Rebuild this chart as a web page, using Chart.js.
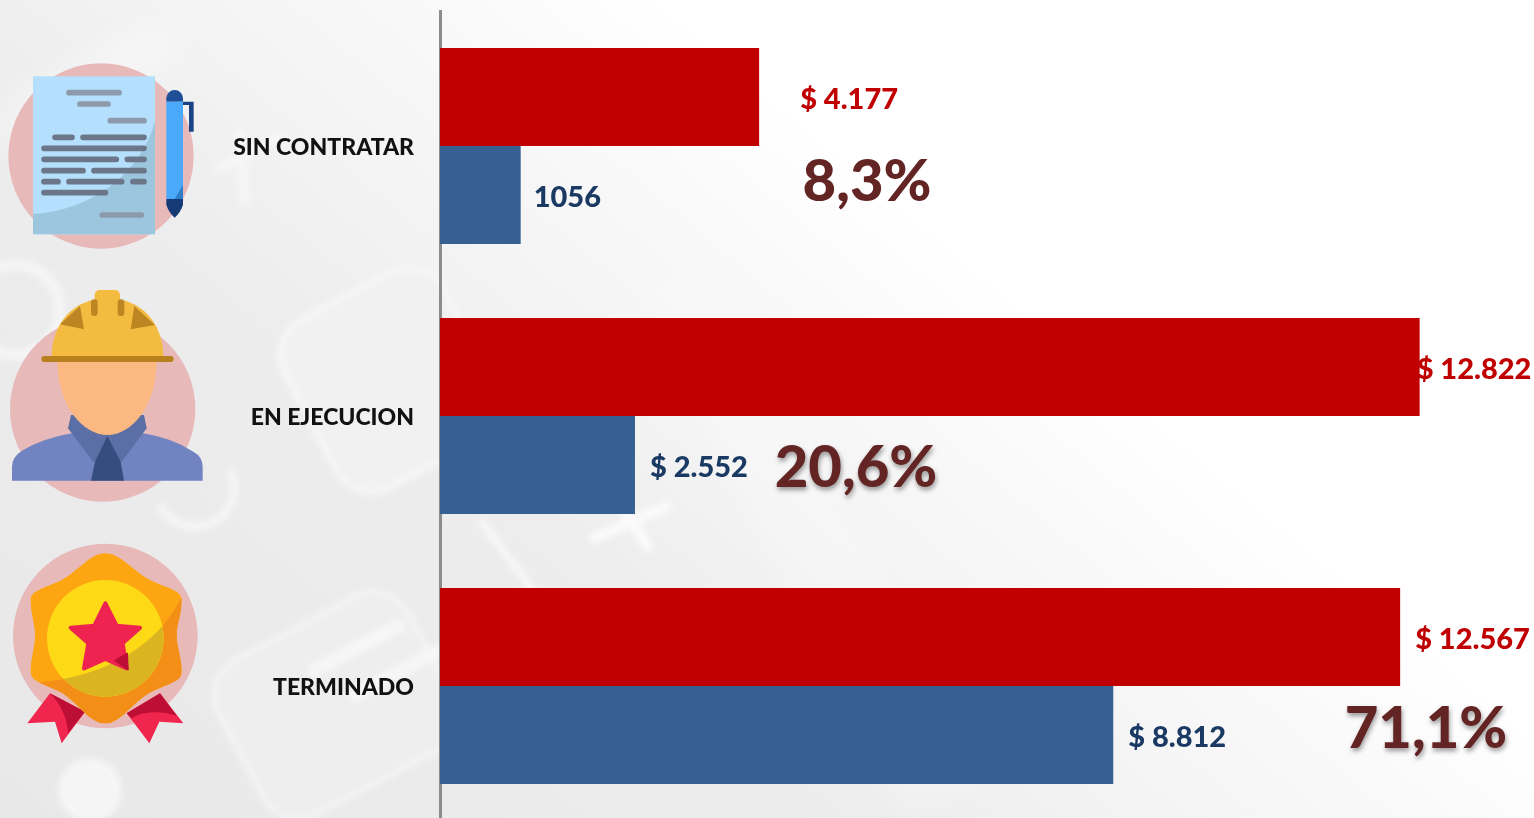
<!DOCTYPE html>
<html><head><meta charset="utf-8">
<script src="https://cdn.jsdelivr.net/npm/chart.js@4"></script>
<style>
html,body{margin:0;padding:0;width:1534px;height:818px;overflow:hidden;background:#fff}
#wrap{position:relative;width:1534px;height:818px;overflow:hidden;background:linear-gradient(40deg,#e8e8e9 0%,#ededee 35%,#f3f3f4 45%,#f9f9f9 56%,#fff 65%)}
#bg,#icons{position:absolute;left:0;top:0}
#c{position:absolute;left:0;top:0}
</style></head><body>
<div id="wrap">
<svg id="bg" width="1534" height="818" viewBox="0 0 1534 818">
 <defs><filter id="b1"><feGaussianBlur stdDeviation="3"/></filter><filter id="b2"><feGaussianBlur stdDeviation="14"/></filter></defs>
 <g filter="url(#b2)" fill="#fff" opacity=".35">
  <path d="M0 100 L150 20 L190 50 L0 160Z"/>
  <path d="M700 250 L1000 780 L900 818 L640 300Z" opacity=".6"/>
 </g>
 <g filter="url(#b1)">
  <rect x="300" y="285" width="180" height="190" rx="40" transform="rotate(-28 390 380)" fill="#f1f1f2" stroke="#f6f6f6" stroke-width="6"/>
  <rect x="225" y="620" width="215" height="175" rx="40" transform="rotate(-28 330 700)" fill="#eeeeef" stroke="#f4f4f4" stroke-width="5"/>
  <rect x="305" y="645" width="105" height="13" transform="rotate(-28 350 652)" fill="#f7f7f7"/>
  <rect x="345" y="670" width="105" height="13" transform="rotate(-28 390 677)" fill="#f7f7f7"/>
  <path d="M590 540 L670 505 M615 495 L650 550" stroke="#fbfbfb" stroke-width="10" fill="none"/>
  <path d="M480 520 L540 600" stroke="#fafafa" stroke-width="6" fill="none"/>
  <path d="M215 170 L285 135 M240 130 L245 205" stroke="#fafafa" stroke-width="10" fill="none" opacity=".7"/>
  <path d="M160 505 A38 38 0 1 0 230 470" fill="none" stroke="#f5f5f5" stroke-width="9"/>
  <circle cx="15" cy="310" r="45" fill="none" stroke="#f4f4f4" stroke-width="12"/>
  <circle cx="90" cy="790" r="32" fill="#f5f5f5"/>
 </g>
</svg>
<canvas id="c" width="1534" height="824"></canvas>
<svg id="icons" width="1534" height="818" viewBox="0 0 1534 818">
 <defs>
  <clipPath id="badgeClip"><path id="badgeP" d="M316 55C360 55 395 105 450 135C500 160 545 165 545 195C545 240 530 265 530 300C530 340 545 365 545 410C545 440 505 445 455 470C395 500 365 565 316 565C265 565 235 500 180 470C130 445 92 440 92 410C92 365 105 340 105 300C105 265 92 240 92 195C92 165 135 160 185 135C240 105 270 55 316 55Z"/></clipPath>
  <clipPath id="innerClip"><circle cx="316" cy="310" r="175"/></clipPath>
 </defs>
 <g transform="translate(0,50) scale(.33333)">
  <circle cx="303" cy="318" r="278" fill="#e8b9b9"/>
  <rect x="99" y="79" width="366" height="474" fill="#b4e0fd"/>
  <path d="M99 492C280 480 420 370 465 215V553H99Z" fill="#9cc5de"/>
  <g stroke="#8c9aab" stroke-width="17" stroke-linecap="round">
   <path d="M207 128H357M240 162H324M331 212H432M307 495H424"/>
  </g>
  <g stroke="#6b7689" stroke-width="17" stroke-linecap="round">
   <path d="M165 262H216M249 262H432M132 295H432M132 328H349M382 328H432M132 362H249M282 362H432M132 395H174M207 395H365M399 395H432M132 428H316"/>
  </g>
  <path d="M549 155H581V245H567V165H549Z" fill="#1b4486"/>
  <path d="M499 155V145A25 25 0 0 1 549 145V155Z" fill="#1f4f96"/>
  <rect x="499" y="155" width="50" height="292" fill="#4aa9fa"/>
  <path d="M499 447H549V465Q540 490 524 503Q508 490 499 465Z" fill="#163a75"/>
  <path d="M524 447L549 405V447Z" fill="#2f7fc8"/>
 </g>
 <g transform="translate(0,280) scale(.33333)">
  <circle cx="308" cy="387" r="278" fill="#e8b9b9"/>
  <path d="M36 602V560Q36 530 70 510Q130 475 215 460H430Q520 475 580 515Q608 530 608 560V602Z" fill="#7183c1"/>
  <path d="M213 405L204 445L280 545H365L440 445L432 405Z" fill="#5b6ea5"/>
  <path d="M322 468L285 545L273 602H372L362 545Z" fill="#364d80"/>
  <path d="M172 240C172 380 250 465 322 465C395 465 470 380 470 240Z" fill="#fbb881"/>
  <rect x="284" y="30" width="76" height="60" rx="15" fill="#f4bb41"/>
  <path d="M155 232C155 130 220 55 322 55C425 55 490 130 490 232Z" fill="#f4bb41"/>
  <rect x="273" y="58" width="20" height="50" rx="10" fill="#bd8623"/>
  <rect x="353" y="58" width="20" height="50" rx="10" fill="#bd8623"/>
  <path d="M180 133L240 78L252 148ZM403 78L465 135L392 148Z" fill="#bd8623"/>
  <path d="M133 237H512" stroke="#b9801f" stroke-width="18" stroke-linecap="round"/>
 </g>
 <g transform="translate(0,535) scale(.33333)">
  <circle cx="316" cy="303" r="277" fill="#e8b9b9"/>
  <path d="M150 475L255 530L185 625L165 560L82 565Z" fill="#f0264e"/>
  <path d="M150 475L255 530L205 595C200 550 185 510 150 475Z" fill="#bd0f35"/>
  <path d="M380 535L480 475L550 565L478 560L448 625Z" fill="#f0264e"/>
  <path d="M380 535L480 475L530 542C480 525 420 530 395 550Z" fill="#bd0f35"/>
  <use href="#badgeP" fill="#fda611"/>
  <path clip-path="url(#badgeClip)" d="M100 443C300 430 470 340 545 185V600H100Z" fill="#f38e17"/>
  <circle cx="316" cy="310" r="175" fill="#fed916"/>
  <path clip-path="url(#innerClip)" d="M100 443C300 430 470 340 545 185V600H100Z" fill="#dbb521"/>
  <path d="M316 205L350 272L420 278L368 325L380 400L316 372L252 400L265 325L212 278L283 272Z" fill="#ef2350" stroke="#ef2350" stroke-width="12" stroke-linejoin="round"/>
  <path d="M345 377L382 355L384 404Z" fill="#bd0f35" stroke="#bd0f35" stroke-width="4" stroke-linejoin="round"/>
 </g>
</svg>
</div>
<script>
const categories = ["SIN CONTRATAR", "EN EJECUCION", "TERMINADO"];
const totalValues = [4177, 12822, 12567];
const paidValues = [1056, 2552, 8812];
const totalLabels = ["$ 4.177", "$ 12.822", "$ 12.567"];
const paidLabels = ["1056", "$ 2.552", "$ 8.812"];
const percentLabels = ["8,3%", "20,6%", "71,1%"];

const FONT = 'Lato, Carlito, "Open Sans", sans-serif';
const RED = "#c00000", BLUE = "#366092", NAVY = "#1b3a63", MAROON = "#632523";
const totalOffsets = [41, -3, 15];
const paidOffsets = [13, 15, 15];
const percentX = [867, 856, 1426];
const percentDY = [36, 52, 43];
const TEXT_DY = 3;

const valueText = {
  id: "valueText",
  afterDatasetsDraw(chart) {
    const ctx = chart.ctx;
    const m0 = chart.getDatasetMeta(0), m1 = chart.getDatasetMeta(1);
    ctx.save();
    ctx.textBaseline = "middle";
    ctx.textAlign = "left";
    ctx.font = "900 29px " + FONT;
    categories.forEach((_, i) => {
      ctx.fillStyle = RED;
      ctx.fillText(totalLabels[i], m0.data[i].x + totalOffsets[i], m0.data[i].y + TEXT_DY);
      ctx.fillStyle = NAVY;
      ctx.fillText(paidLabels[i], m1.data[i].x + paidOffsets[i], m1.data[i].y + TEXT_DY);
    });
    ctx.textAlign = "center";
    ctx.font = "900 58px " + FONT;
    ctx.fillStyle = MAROON;
    categories.forEach((_, i) => {
      ctx.save();
      if (i > 0) {
        ctx.shadowColor = "rgba(0,0,0,.4)";
        ctx.shadowBlur = 5;
        ctx.shadowOffsetX = 1;
        ctx.shadowOffsetY = 3;
      }
      const y = chart.scales.y.getPixelForValue(i) + percentDY[i];
      ctx.fillText(percentLabels[i], percentX[i], y);
      ctx.restore();
    });
    ctx.restore();
  }
};

new Chart(document.getElementById("c"), {
  type: "bar",
  plugins: [valueText],
  data: {
    labels: categories,
    datasets: [
      { label: "Total", data: totalValues, backgroundColor: RED },
      { label: "Contratado", data: paidValues, backgroundColor: BLUE }
    ]
  },
  options: {
    indexAxis: "y",
    responsive: false,
    maintainAspectRatio: false,
    animation: false,
    layout: { padding: { top: 11, bottom: 3, left: 0, right: 0 } },
    datasets: { bar: { barPercentage: 1, categoryPercentage: 196 / 270 } },
    plugins: { legend: { display: false }, tooltip: { enabled: false } },
    scales: {
      x: { min: 0, max: 14319, display: false, grid: { display: false } },
      y: {
        afterFit(s) { s.width = 440; s.paddingTop = 0; s.paddingBottom = 0; },
        grid: { display: false, drawTicks: false },
        border: { display: true, color: "#8c8c8c", width: 3 },
        ticks: { padding: 26, labelOffset: 1.5, color: "#111", font: { family: FONT, weight: "900", size: 23 } }
      }
    }
  }
});
</script>
</body></html>
